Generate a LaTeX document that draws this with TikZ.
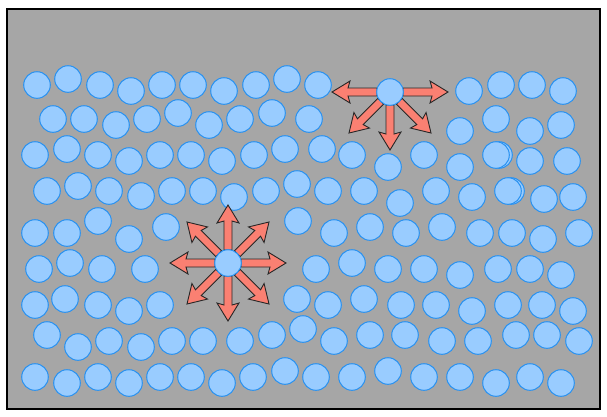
\documentclass[tikz,border=0pt]{standalone}
\definecolor{bg}{RGB}{166,166,166}
\definecolor{ballfill}{RGB}{153,204,255}
\definecolor{balledge}{RGB}{40,145,240}
\definecolor{arrowfill}{RGB}{250,128,114}
\tikzset{
  ball/.style={fill=ballfill,draw=balledge,line width=1pt},
  blockarrow/.style={fill=arrowfill,draw=black!85,line width=0.9pt,line join=miter},
}
\newcommand{\blockarr}{(13,-4) -- (42,-4) -- (40,-11) -- (58,0) -- (40,11) -- (42,4) -- (13,4) -- cycle}
\begin{document}
\begin{tikzpicture}[x=1pt,y=-1pt]
\useasboundingbox (0,0) rectangle (607,416);
\draw[fill=bg,draw=black,line width=2pt] (7,9) rectangle (600,409);
% row 1
\foreach \x/\y in {37/85,68/79,100/85,131/91,162/85,193/85,224/91,256/85,287/79,318/85,469/91,501/85,532/85,563/91}
  \draw[ball] (\x,\y) circle (13.3);
% row 2
\foreach \x/\y in {53/119,84/119,116/125,147/119,178/113,209/125,240/119,272/113,309/119,460/131,496/119,530/131,561/125}
  \draw[ball] (\x,\y) circle (13.3);
% row 3
\foreach \x/\y in {35/155,67/149,98/155,129/161,160/155,191/155,222/161,254/155,285/149,322/149,352/155,388/167,424/155,460/167,499/155,496/155,530/161,567/161}
  \draw[ball] (\x,\y) circle (13.3);
% row 4
\foreach \x/\y in {47/191,78/186,109/191,141/196,172/191,203/191,234/197,266/191,297/184,328/191,364/191,400/203,436/191,472/197,511/191,508/191,544/199,573/197}
  \draw[ball] (\x,\y) circle (13.3);
% row 5
\foreach \x/\y in {35/233,67/233,98/221,129/239,166/227,298/221,334/233,370/227,406/233,442/227,480/233,512/233,543/239,579/233}
  \draw[ball] (\x,\y) circle (13.3);
% row 6
\foreach \x/\y in {39/269,70/263,102/269,145/269,316/269,352/263,388/269,424/269,460/275,498/269,530/269,561/275}
  \draw[ball] (\x,\y) circle (13.3);
% row 7
\foreach \x/\y in {35/305,65/299,98/305,129/311,160/305,297/299,328/305,364/299,401/305,436/305,472/311,508/305,542/305,573/311}
  \draw[ball] (\x,\y) circle (13.3);
% row 8
\foreach \x/\y in {47/335,78/347,109/341,141/347,172/341,203/341,240/341,272/335,303/329,334/341,370/335,405/335,442/341,478/341,516/335,547/335,579/341}
  \draw[ball] (\x,\y) circle (13.3);
% row 9
\foreach \x/\y in {35/377,67/383,98/377,129/383,160/377,191/377,222/383,253/377,285/371,316/377,352/377,388/371,424/377,460/377,496/383,530/377,561/383}
  \draw[ball] (\x,\y) circle (13.3);
% top cluster
\foreach \a in {0,180,-90,-45,-135}
  \draw[blockarrow,shift={(390,92)},rotate=\a] \blockarr;
\draw[ball] (390,92) circle (13.3);
% bottom cluster
\foreach \a in {0,45,...,315}
  \draw[blockarrow,shift={(228,263)},rotate=\a] \blockarr;
\draw[ball] (228,263) circle (13.3);
\end{tikzpicture}
\end{document}
